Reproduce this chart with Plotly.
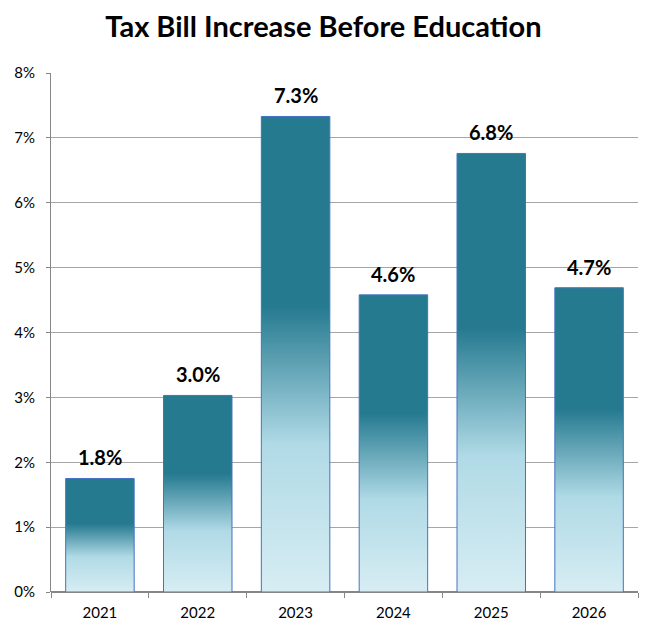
import plotly.graph_objects as go

# Chart data
years = ["2021", "2022", "2023", "2024", "2025", "2026"]
increase = [1.75, 3.03, 7.33, 4.58, 6.76, 4.69]
labels = ["1.8%", "3.0%", "7.3%", "4.6%", "6.8%", "4.7%"]
y_ticks = [0, 1, 2, 3, 4, 5, 6, 7, 8]

BAR_W = 0.7
grad = [[0.0, "#D7EDF3"], [0.31, "#B0DAE6"], [0.6, "#267A90"], [1.0, "#267A90"]]

fig = go.Figure()

# Each bar is a filled rectangle so it can carry a vertical gradient
for i, v in enumerate(increase):
    x0, x1 = i - BAR_W / 2, i + BAR_W / 2
    fig.add_trace(go.Scatter(
        x=[x0, x0, x1, x1, x0],
        y=[0, v, v, 0, 0],
        mode="lines",
        fill="toself",
        fillgradient=dict(type="vertical", colorscale=grad),
        line=dict(color="#4472C4", width=1),
        hoverinfo="skip",
        showlegend=False,
    ))

# Value labels above bars
for i, (v, lab) in enumerate(zip(increase, labels)):
    fig.add_annotation(
        x=i, y=v, text=f"<b>{lab}</b>",
        showarrow=False, yanchor="bottom", yshift=7,
        font=dict(family="Lato", size=20, color="black"),
    )

# page body adds ~8px offset, margins compensate
fig.update_layout(
    title=dict(
        text="<b>Tax Bill Increase Before Education</b>",
        xref="container", x=0.483, xanchor="center",
        yref="container", y=0.971, yanchor="middle",
        font=dict(family="Lato", size=29, color="black"),
    ),
    width=653,
    height=635,
    margin=dict(l=43, r=23, t=65, b=51),
    plot_bgcolor="white",
    paper_bgcolor="white",
    font=dict(family="Lato", size=15, color="black"),
    xaxis=dict(
        range=[-0.5, len(years) - 0.5],
        tickmode="array",
        tickvals=list(range(len(years))),
        ticktext=years,
        ticks="",
        ticklabelstandoff=10,
        showgrid=False,
        zeroline=False,
        showline=False,
        automargin=False,
        minor=dict(tickmode="linear", tick0=-0.5, dtick=1, ticks="outside",
                   ticklen=5, tickcolor="#868686", showgrid=False),
        fixedrange=True,
    ),
    yaxis=dict(
        range=[0, 8],
        tickmode="array",
        tickvals=y_ticks,
        ticktext=[f"{t}%" for t in y_ticks],
        ticks="outside",
        ticklen=4,
        tickcolor="#868686",
        ticklabelstandoff=8,
        showgrid=True,
        gridcolor="#A6A6A6",
        gridwidth=1,
        zeroline=True,
        zerolinecolor="#868686",
        showline=True,
        linecolor="#868686",
        automargin=False,
        fixedrange=True,
    ),
)

fig.write_html("out.html")
